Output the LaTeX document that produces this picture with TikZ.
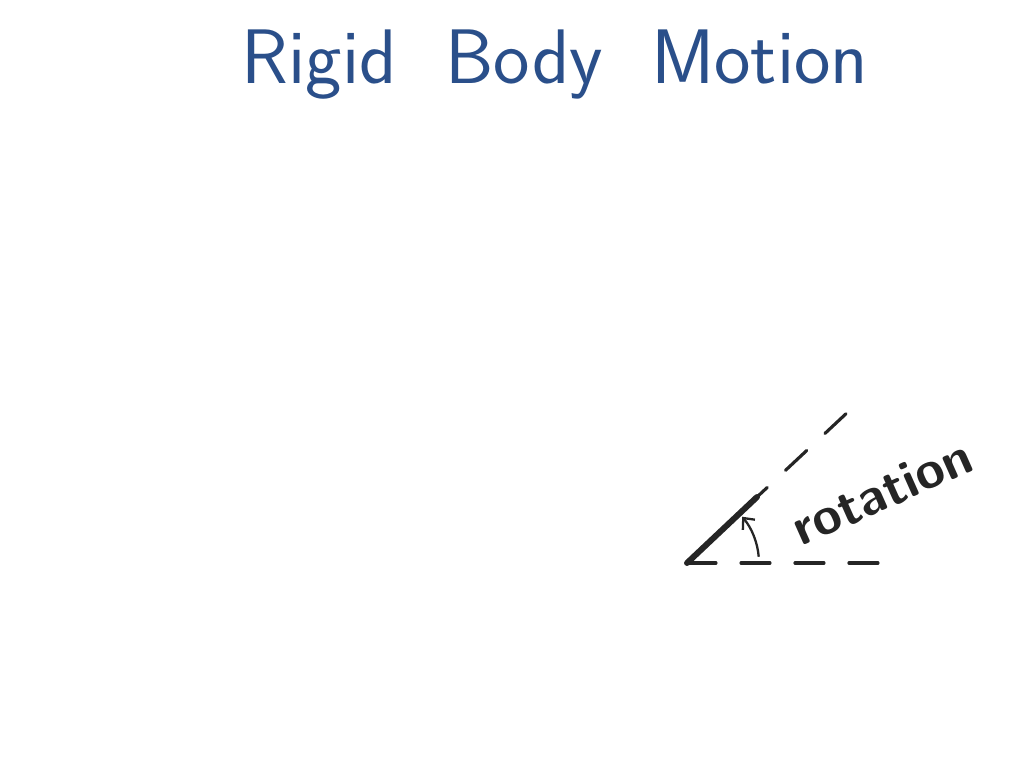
\documentclass[tikz,border=0pt]{standalone}
\usepackage{tikz}
\usetikzlibrary{positioning,arrows.meta}
\definecolor{penblue}{HTML}{2A4F8A}
\definecolor{penblack}{HTML}{252525}
\tikzset{
  dashline/.style={penblack,line width=1.8pt,dash pattern=on 0.58cm off 0.5cm,line cap=round},
  bodyline/.style={penblack,line width=3.4pt,line cap=round},
  turnarrow/.style={penblack,line width=1.3pt,-{Straight Barb[length=5pt,width=9pt]}}
}
\begin{document}
\begin{tikzpicture}[x=0.02cm,y=-0.02cm]\begin{scope}[scale=1]
\useasboundingbox(0,0) rectangle (1024,768);
\draw(555,65) node (title) {\color{penblue}\fontsize{44}{52}\selectfont\sffamily Rigid\ \ Body\ \ Motion};
\coordinate (O) at (687,563);
\coordinate (A) at (757,497);
\coordinate (B) at (850,410);
\coordinate (C) at (887,563);
\draw[bodyline] (O) -- (A);
\draw[dashline] (O) -- (C);
\draw[dashline,dash phase=0.3cm] (A) -- (B);
\draw[turnarrow] (O) ++(-5:72) arc (-5:-40:72);
\draw(882,492) node[rotate=24] (rotlabel) {\color{penblack}\fontsize{30}{36}\selectfont\sffamily\bfseries rotation};
\end{scope}\end{tikzpicture}
\end{document}
